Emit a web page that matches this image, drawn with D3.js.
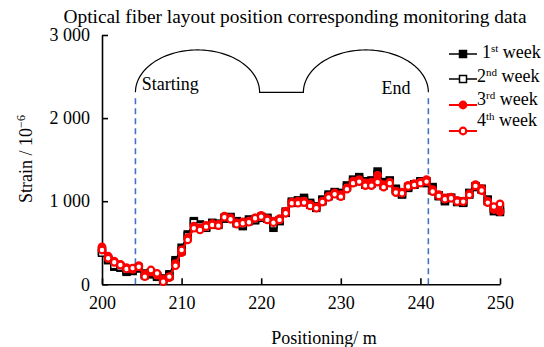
<!DOCTYPE html>
<html>
<head>
<meta charset="utf-8">
<script src="https://cdn.jsdelivr.net/npm/d3@7"></script>
<style>
  html, body { margin: 0; padding: 0; background: #fff; }
  svg { display: block; }
  svg text { font-family: "Liberation Serif", "Times New Roman", serif !important; fill: #000; }
</style>
</head>
<body>
<svg id="chart" width="544" height="347"></svg>
<script>
// Fiber positions along the route (m)
const positions = [200.00, 200.77, 201.54, 202.31, 203.08, 203.85, 204.62, 205.38, 206.15, 206.92,
  207.69, 208.46, 209.23, 210.00, 210.77, 211.54, 212.31, 213.08, 213.85, 214.62,
  215.38, 216.15, 216.92, 217.69, 218.46, 219.23, 220.00, 220.77, 221.54, 222.31,
  223.08, 223.85, 224.62, 225.38, 226.15, 226.92, 227.69, 228.46, 229.23, 230.00,
  230.77, 231.54, 232.31, 233.08, 233.85, 234.62, 235.38, 236.15, 236.92, 237.69,
  238.46, 239.23, 240.00, 240.77, 241.54, 242.31, 243.08, 243.85, 244.62, 245.38,
  246.15, 246.92, 247.69, 248.46, 249.23, 250.00];

// Strain readings (10^-6) for each monitoring week
const week1 = [400,290,212,200,150,160,190,130,120,90,70,120,290,440,600,760,720,690,740,730,
  790,810,760,700,780,770,810,800,680,760,875,995,1010,1040,980,940,1020,1080,1110,1100,
  1190,1260,1290,1240,1250,1357,1230,1250,1150,1080,1160,1200,1240,1217,1170,1060,1000,1040,990,980,
  1100,1170,1150,1020,880,870];
const week2 = [380,300,230,210,170,175,200,110,140,100,50,100,260,400,580,740,700,680,720,715,
  800,790,735,720,760,780,800,790,720,770,860,980,990,1010,960,920,1000,1060,1090,1070,
  1170,1230,1260,1200,1210,1320,1190,1230,1130,1090,1170,1200,1230,1240,1130,1070,1020,1040,1000,990,
  1080,1180,1140,1000,910,900];
const week3 = [450,340,280,240,200,180,225,120,150,110,60,80,250,380,560,700,680,710,730,720,
  820,800,740,750,760,800,830,790,760,790,880,990,1000,1000,960,930,1000,1060,1100,1080,
  1160,1240,1260,1220,1230,1310,1200,1230,1120,1110,1190,1210,1230,1260,1140,1080,1040,1050,1010,1000,
  1090,1200,1150,1000,900,875];
const week4 = [413,313,265,232,185,195,212,92,172,132,31,92,224,413,534,675,654,694,714,706,
  807,783,723,735,747,795,814,775,742,775,855,976,976,983,943,916,990,1045,1084,1055,
  1145,1217,1236,1188,1188,1230,1169,1217,1104,1096,1176,1196,1217,1236,1116,1064,1024,1036,995,995,
  1076,1184,1128,983,935,967];

const xTicks = [200, 210, 220, 230, 240, 250];
const yTicks = [0, 1000, 2000, 3000];
const yTickLabels = ["0", "1 000", "2 000", "3 000"];

const seriesNames = [["1", "st", " week"], ["2", "nd", " week"], ["3", "rd", " week"], ["4", "th", " week"]];

// Monitored section bounds (m) and the sketch of the fiber loop above it
const sectionStart = 204.2, sectionEnd = 241.0;
const loopGap = [219.8, 225.3];
const loopBase = 2310, loopTop = 2820;

const serif = '"Liberation Serif", "Times New Roman", serif';
const svg = d3.select("#chart");
const x = d3.scaleLinear().domain([200, 250]).range([102, 500]);
const y = d3.scaleLinear().domain([0, 3000]).range([284.3, 35]);

// Axes
const xAxis = d3.axisBottom(x).tickValues(xTicks).tickFormat(d3.format("d"))
  .tickSizeInner(-6).tickSizeOuter(0).tickPadding(12);
const yAxis = d3.axisLeft(y).tickValues(yTicks).tickFormat((d, i) => yTickLabels[i])
  .tickSizeInner(-6).tickSizeOuter(0).tickPadding(12);

const gx = svg.append("g").attr("transform", `translate(0,${y(0)})`).call(xAxis);
const gy = svg.append("g").attr("transform", `translate(${x(200)},0)`).call(yAxis);
[gx, gy].forEach(g => {
  g.attr("font-family", serif).attr("font-size", 18);
  g.select(".domain").attr("stroke", "#000").attr("stroke-width", 1.6);
  g.selectAll(".tick line").attr("stroke", "#000").attr("stroke-width", 1.6);
  g.selectAll(".tick text").attr("fill", "#000").style("font-size", "18px");
});

// Section boundary markers
svg.append("g").selectAll("line").data([sectionStart, sectionEnd]).join("line")
  .attr("x1", d => x(d)).attr("x2", d => x(d))
  .attr("y1", y(0)).attr("y2", y(loopBase) + 3)
  .attr("stroke", "#4472C4").attr("stroke-width", 1.6).attr("stroke-dasharray", "6,4");

// Fiber loop sketch: two half-ellipses joined by a straight run
const rxL = (x(loopGap[0]) - x(sectionStart)) / 2;
const rxR = (x(sectionEnd) - x(loopGap[1])) / 2;
const ry = y(loopBase) - y(loopTop);
const arcPts = (x0, rx) => {
  const cx = x0 + rx, cy = y(loopBase);
  const pts = [];
  for (let t = Math.PI; t >= 0; t -= Math.PI / 60) pts.push([cx + rx * Math.cos(t), cy - ry * Math.sin(t)]);
  pts.push([cx + rx, cy]);
  return pts;
};
const loopPts = arcPts(x(sectionStart), rxL).concat([[x(loopGap[1]), y(loopBase)]], arcPts(x(loopGap[1]), rxR));
svg.append("path").attr("d", d3.line()(loopPts))
  .attr("fill", "none").attr("stroke", "#000").attr("stroke-width", 1.2);

svg.append("text").attr("x", x(205)).attr("y", y(2340)).text("Starting")
  .style("font-size", "18px");
svg.append("text").attr("x", x(235.1)).attr("y", y(2285)).text("End")
  .style("font-size", "18px");

// Series
const styles = [
  { data: week1, color: "#000", shape: "square", fill: "#000", lw: 1.5 },
  { data: week2, color: "#000", shape: "square", fill: "#fff", lw: 1.5 },
  { data: week3, color: "#f00", shape: "circle", fill: "#f00", lw: 2 },
  { data: week4, color: "#f00", shape: "circle", fill: "#fff", lw: 2 }
];
const line = d3.line().x(d => x(d[0])).y(d => y(d[1]));

function marker(g, s, cx, cy) {
  if (s.shape === "square") {
    g.append("rect").attr("x", cx - 3.5).attr("y", cy - 3.5).attr("width", 7).attr("height", 7)
      .attr("fill", s.fill).attr("stroke", s.color).attr("stroke-width", 1.5);
  } else if (s.fill === "#fff") {
    g.append("circle").attr("cx", cx).attr("cy", cy).attr("r", 3.3)
      .attr("fill", "#fff").attr("stroke", s.color).attr("stroke-width", 2.2);
  } else {
    g.append("circle").attr("cx", cx).attr("cy", cy).attr("r", 4.4).attr("fill", s.color);
  }
}

styles.forEach(s => {
  const pts = positions.map((p, i) => [p, s.data[i]]);
  const g = svg.append("g");
  g.append("path").attr("d", line(pts)).attr("fill", "none")
    .attr("stroke", s.color).attr("stroke-width", s.lw);
  pts.forEach(p => marker(g, s, x(p[0]), y(p[1])));
});

// Legend
const legendY = [54, 79, 105, 131];
const textY = [58, 82, 105, 126];
styles.forEach((s, i) => {
  const g = svg.append("g");
  g.append("line").attr("x1", 449).attr("x2", 477).attr("y1", legendY[i]).attr("y2", legendY[i])
    .attr("stroke", s.color).attr("stroke-width", s.lw);
  marker(g, s, 463, legendY[i]);
  const t = g.append("text").attr("x", i === 0 ? 482 : 477).attr("y", textY[i]).style("font-size", "18px");
  t.append("tspan").text(seriesNames[i][0]);
  t.append("tspan").attr("dy", -6).style("font-size", "11px").text(seriesNames[i][1]);
  t.append("tspan").attr("dy", 6).text(seriesNames[i][2]);
});

// Title and axis titles
svg.append("text").attr("x", 295).attr("y", 23).attr("text-anchor", "middle")
  .style("font-size", "19.4px").text("Optical fiber layout position corresponding monitoring data");

svg.append("text").attr("x", 324).attr("y", 344).attr("text-anchor", "middle")
  .style("font-size", "18px").text("Positioning/ m");

const yl = svg.append("text").attr("transform", "translate(32,159) rotate(-90)")
  .attr("text-anchor", "middle").style("font-size", "18px");
yl.append("tspan").text("Strain / 10");
yl.append("tspan").attr("dy", -7).style("font-size", "12px").text("\u22126");
</script>
</body>
</html>
